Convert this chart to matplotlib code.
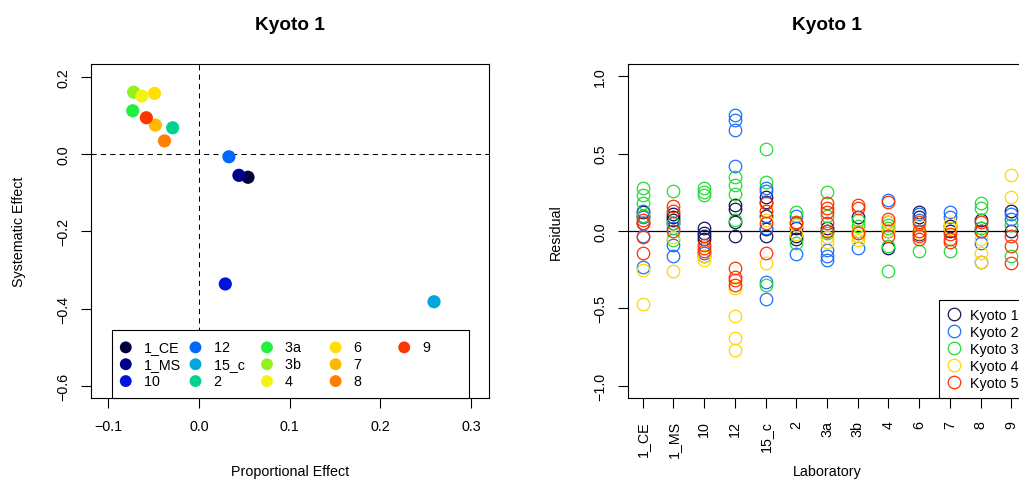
import matplotlib.pyplot as plt
from matplotlib.lines import Line2D

plt.rcParams['font.family'] = ['Liberation Sans', 'DejaVu Sans']

# laboratories and their colours
labs = ['1_CE', '1_MS', '10', '12', '15_c', '2', '3a', '3b', '4', '6', '7', '8', '9']
lab_colors = ['#00003f', '#00008a', '#0014dd', '#0068ff', '#00a8dc', '#00d290',
              '#22f040', '#96f020', '#f2f214', '#ffde00', '#ffb800', '#ff8000', '#ff3500']

# proportional / systematic effect per laboratory
prop_effect = [0.054, 0.044, 0.029, 0.033, 0.259, -0.029, -0.073, -0.072,
               -0.063, -0.049, -0.048, -0.038, -0.058]
sys_effect = [-0.060, -0.055, -0.336, -0.007, -0.382, 0.068, 0.112, 0.160,
              0.150, 0.157, 0.075, 0.034, 0.094]

# residuals for each Kyoto run, one list per laboratory (same order as labs)
series_names = ['Kyoto 1', 'Kyoto 2', 'Kyoto 3', 'Kyoto 4', 'Kyoto 5']
series_colors = ['#14145a', '#1e6eff', '#22dd33', '#ffd700', '#ff3300']
kyoto1 = [[0.12, 0.10, 0.05], [0.11, 0.09, 0.07, 0.05], [0.02, -0.01, -0.03, -0.05],
          [0.17, 0.14, 0.06, -0.03], [0.22, 0.19, 0.10, 0.015, -0.03], [0.02, -0.03, -0.05],
          [0.02, 0.0], [0.09, 0.0], [0.0, -0.11], [0.12, 0.09, -0.02], [0.0, 0.03],
          [0.07, 0.0], [0.13, 0.0]]
kyoto2 = [[0.13, 0.09, -0.03, -0.23], [0.02, -0.09, -0.16], [-0.14, -0.16],
          [0.75, 0.72, 0.65, 0.42], [0.28, 0.26, 0.02, -0.33, -0.44], [0.10, -0.15],
          [-0.12, -0.16, -0.19], [-0.11], [0.20, 0.06], [0.11, 0.07], [0.12, 0.09],
          [0.02, -0.08, -0.20], [0.11, 0.08]]
kyoto3 = [[0.28, 0.23, 0.18, 0.10], [0.26, 0.05, -0.06], [0.28, 0.25, 0.23],
          [0.35, 0.30, 0.24, 0.07], [0.53, 0.32, -0.35], [0.12, -0.08],
          [0.25, 0.10, -0.01], [0.07, 0.03], [0.04, 0.02, -0.10, -0.26], [-0.13],
          [-0.13], [0.18, 0.15, 0.02], [0.04, -0.16]]
kyoto4 = [[-0.25, -0.47], [-0.04, -0.26], [-0.16, -0.19], [-0.37, -0.55, -0.69, -0.77],
          [0.13, 0.07, -0.21], [0.04, -0.02], [-0.04, -0.07], [-0.03, -0.06, 0.0],
          [0.06, 0.0], [0.04, -0.01], [0.05, 0.02], [-0.05, -0.14, -0.20], [0.36, 0.22]]
kyoto5 = [[0.07, 0.05, -0.04, -0.14], [0.16, 0.13, 0.0], [-0.09, -0.11, -0.13],
          [-0.24, -0.30, -0.32, -0.35], [0.18, 0.13, 0.05, -0.14], [0.06, 0.05],
          [0.18, 0.15, 0.12, 0.05, 0.0], [0.17, 0.15, -0.01], [0.19, 0.08, -0.03],
          [0.06, -0.03, -0.05, 0.0], [-0.02, -0.05, -0.07], [0.06, 0.0],
          [-0.03, -0.10, -0.21]]
residuals = [kyoto1, kyoto2, kyoto3, kyoto4, kyoto5]

FS = 10.3
W, H = 1019, 485

# rough Liberation Sans advance widths (em) for padding legend labels
ADV = {'_': 0.556, 'M': 0.833, 'S': 0.667, 'C': 0.722, 'E': 0.667,
       'a': 0.556, 'b': 0.556, 'c': 0.5, ' ': 0.278}


def padded(label, target=2.612):
    # every legend column as wide as the longest label ("1_MS")
    w = sum(ADV.get(ch, 0.556) for ch in label)
    return label + ' ' * max(0, round((target - w) / ADV[' ']))


def style_axes(ax):
    for sp in ax.spines.values():
        sp.set_linewidth(0.8)
    ax.tick_params(length=7.5, width=0.8, labelsize=FS, direction='out')
    ax.tick_params(axis='x', pad=7.5)
    ax.tick_params(axis='y', pad=7.5)


fig = plt.figure(figsize=(W / 100, H / 100), dpi=100)

# ---- left panel: systematic vs proportional effect ----
ax1 = fig.add_axes([91 / W, 86 / H, 398 / W, 334 / H])
ax1.axvline(0, color='black', lw=0.75, ls=(0, (5, 4)), zorder=1)
ax1.axhline(0, color='black', lw=0.75, ls=(0, (5, 4)), zorder=1)
handles = []
for lab, col, px, py in zip(labs, lab_colors, prop_effect, sys_effect):
    handles.append(ax1.scatter(px, py, s=90, color=col, edgecolors='none', zorder=3, label=lab))
ax1.set_xlim(-0.119, 0.3196)
ax1.set_ylim(-0.631, 0.233)
ax1.set_xticks([-0.1, 0.0, 0.1, 0.2, 0.3])
ax1.set_yticks([-0.6, -0.4, -0.2, 0.0, 0.2])
style_axes(ax1)
plt.setp(ax1.get_yticklabels(), rotation=90, va='center')
ax1.set_title('Kyoto 1', fontsize=13.7, fontweight='bold', pad=25.5)
ax1.set_xlabel('Proportional Effect', fontsize=FS)
ax1.set_ylabel('Systematic Effect', fontsize=FS)
ax1.xaxis.set_label_coords(0.5, -0.198)
ax1.yaxis.set_label_coords(-0.163, 0.5)

# pad the last legend column so it fills top-down like the others
blank = [Line2D([], [], ls='none')] * 2
leg_labels = [padded(l) for l in labs] + ['', '']
leg1 = ax1.legend(handles + blank, leg_labels, ncol=5, loc='lower left',
                  bbox_to_anchor=(0.0528, 0.0), borderaxespad=0, fontsize=FS,
                  frameon=True, fancybox=False, edgecolor='black', framealpha=1,
                  handlelength=0.5, handletextpad=1.03, labelspacing=0.2,
                  borderpad=0.71, columnspacing=0.75, scatterpoints=1,
                  markerscale=0.9)
leg1.get_frame().set_linewidth(0.8)

# ---- right panel: residuals by laboratory ----
ax2 = fig.add_axes([628 / W, 86 / H, 398 / W, 334 / H])
ax2.axhline(0, color='black', lw=0.9, zorder=1)
xpos = list(range(1, len(labs) + 1))
for name, col, res in zip(series_names, series_colors, residuals):
    xs, ys = [], []
    for x, vals in zip(xpos, res):
        xs += [x] * len(vals)
        ys += vals
    ax2.plot(xs, ys, ls='none', marker='o', mfc='none', mec=col, ms=9,
             mew=0.9, label=name, zorder=3)
ax2.set_xlim(0.52, 13.48)
ax2.set_ylim(-1.08, 1.08)
ax2.set_xticks(xpos)
ax2.set_xticklabels(labs)
ax2.set_yticks([-1.0, -0.5, 0.0, 0.5, 1.0])
style_axes(ax2)
ax2.tick_params(axis='x', pad=8.5)
plt.setp(ax2.get_xticklabels(), rotation=90, va='top', ha='center')
plt.setp(ax2.get_yticklabels(), rotation=90, va='center')
ax2.set_title('Kyoto 1', fontsize=13.7, fontweight='bold', pad=25.5)
ax2.set_xlabel('Laboratory', fontsize=FS)
ax2.set_ylabel('Residual', fontsize=FS)
ax2.xaxis.set_label_coords(0.5, -0.198)
ax2.yaxis.set_label_coords(-0.163, 0.5)
leg2 = ax2.legend(loc='lower right', borderaxespad=0, fontsize=FS, frameon=True,
                  fancybox=False, edgecolor='black', framealpha=1, handlelength=1.0,
                  handletextpad=0.6, labelspacing=0.22, borderpad=0.55)
leg2.get_frame().set_linewidth(0.8)

fig.savefig('out.png', dpi=100)
